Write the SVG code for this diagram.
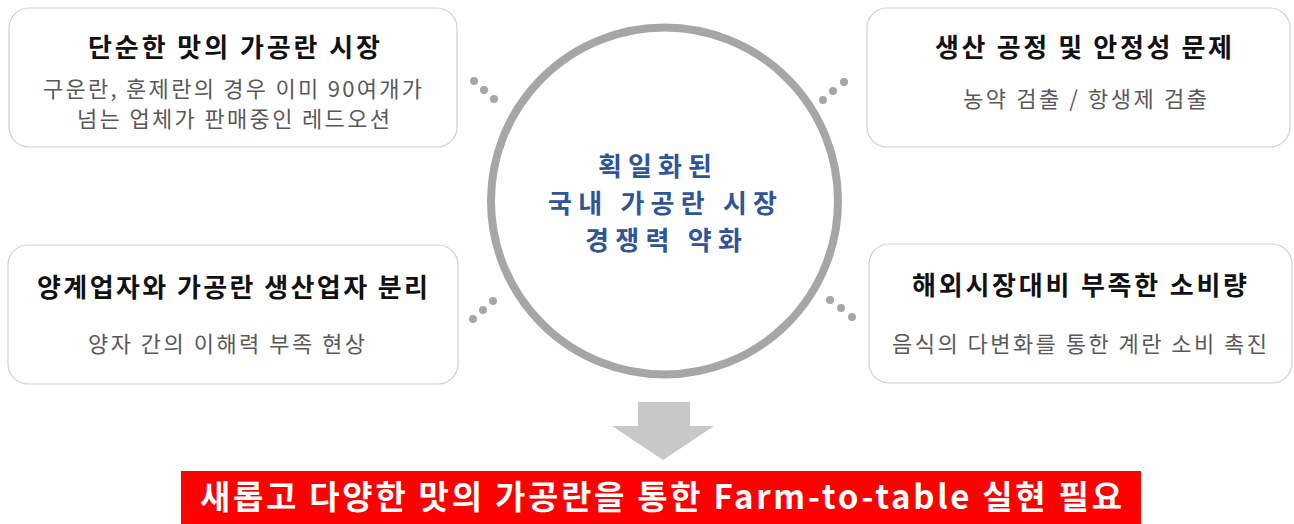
<svg xmlns="http://www.w3.org/2000/svg" width="1294" height="524" viewBox="0 0 1294 524">
<style>
.box{fill:#fff;stroke:#cfcfcf;stroke-width:1.2}
.t{font-family:"Noto Sans CJK KR","Noto Sans",sans-serif;font-weight:bold;font-size:26px;fill:#111;text-anchor:middle}
.s{font-family:"Noto Sans CJK KR","Noto Sans",sans-serif;font-size:22px;fill:#595959;text-anchor:middle}
.c{font-family:"Noto Sans CJK KR","Noto Sans",sans-serif;font-weight:bold;font-size:26px;fill:#2f5597;text-anchor:middle}
.d{fill:#a6a6a6}
</style>
<rect width="1294" height="524" fill="#fff"/>
<g id="connectors">
<circle class="d" cx="474" cy="81" r="4"/><circle class="d" cx="484" cy="90" r="4"/><circle class="d" cx="494" cy="99" r="4"/>
<circle class="d" cx="823" cy="100" r="4"/><circle class="d" cx="833" cy="91" r="4"/><circle class="d" cx="844" cy="82" r="4"/>
<circle class="d" cx="473" cy="319" r="4"/><circle class="d" cx="483" cy="310" r="4"/><circle class="d" cx="493" cy="301" r="4"/>
<circle class="d" cx="830" cy="300" r="4"/><circle class="d" cx="841" cy="308" r="4"/><circle class="d" cx="852" cy="317" r="4"/>
<polygon points="638,402 690,402 690,426 714,426 663,460 612,426 638,426" fill="#c8c8c8"/>
</g>
<g id="center">
<circle cx="664.5" cy="201" r="173.5" fill="#fff" stroke="#a6a6a6" stroke-width="8"/>
<text class="c" x="655" y="176" textLength="114">획일화된</text>
<text class="c" x="662.5" y="213" textLength="229">국내 가공란 시장</text>
<text class="c" x="663.5" y="250" textLength="157">경쟁력 약화</text>
</g>
<g id="box-tl">
<rect class="box" x="9" y="8" width="448" height="139" rx="20"/>
<text class="t" x="234" y="57" textLength="292">단순한 맛의 가공란 시장</text>
<text class="s" x="232.5" y="97" textLength="379">구운란, 훈제란의 경우 이미 90여개가</text>
<text class="s" x="233.5" y="127" textLength="313">넘는 업체가 판매중인 레드오션</text>
</g>
<g id="box-tr">
<rect class="box" x="867" y="8" width="423" height="139" rx="20"/>
<text class="t" x="1083.5" y="57" textLength="297">생산 공정 및 안정성 문제</text>
<text class="s" x="1085" y="107" textLength="244">농약 검출 / 항생제 검출</text>
</g>
<g id="box-bl">
<rect class="box" x="8" y="245" width="450" height="139" rx="20"/>
<text class="t" x="232.5" y="297" textLength="391">양계업자와 가공란 생산업자 분리</text>
<text class="s" x="226.5" y="352" textLength="277">양자 간의 이해력 부족 현상</text>
</g>
<g id="box-br">
<rect class="box" x="869" y="244" width="423" height="139" rx="20"/>
<text class="t" x="1079.5" y="295" textLength="335">해외시장대비 부족한 소비량</text>
<text class="s" x="1079.5" y="352" textLength="375">음식의 다변화를 통한 계란 소비 촉진</text>
</g>
<g id="result">
<rect x="181" y="471" width="960" height="53" fill="#ff0000"/>
<text x="661" y="509" font-family="'Noto Sans CJK KR','Noto Sans',sans-serif" font-weight="bold" font-size="33" fill="#fff" text-anchor="middle" textLength="922">새롭고 다양한 맛의 가공란을 통한 Farm-to-table 실현 필요</text>
</g>
</svg>
